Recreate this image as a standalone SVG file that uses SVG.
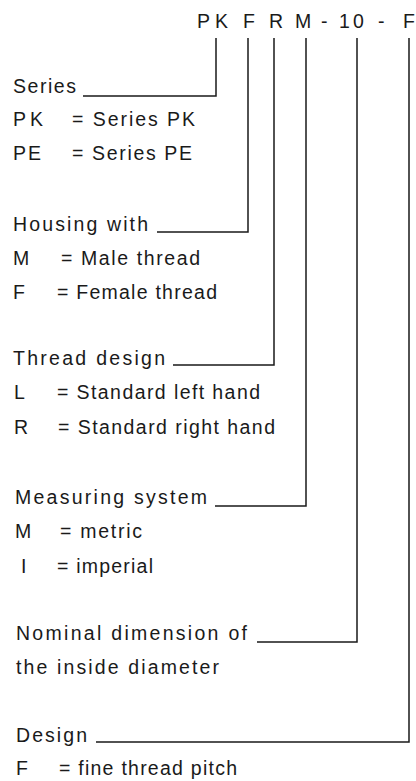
<svg xmlns="http://www.w3.org/2000/svg" width="416" height="781" viewBox="0 0 416 781">
  <style>
    text { font-family: "Liberation Sans", Arial, sans-serif; font-size: 19.5px; fill: #1a1a1a; }
    .leader { fill: none; stroke: #1a1a1a; stroke-width: 1.5; }
  </style>
  <rect width="416" height="781" fill="#ffffff"/>

  <!-- order code -->
  <g id="code">
    <text y="28"><tspan x="197">P</tspan><tspan x="215">K</tspan><tspan x="243">F</tspan><tspan x="269">R</tspan><tspan x="295">M</tspan><tspan x="321">-</tspan><tspan x="339">1</tspan><tspan x="353">0</tspan><tspan x="378">-</tspan><tspan x="403">F</tspan></text>
  </g>

  <!-- leader lines from each code position to its legend -->
  <g id="connectors">
    <polyline class="leader" points="216,38 216,96 83,96"/>
    <polyline class="leader" points="248,38 248,232 157,232"/>
    <polyline class="leader" points="274,38 274,365 173,365"/>
    <polyline class="leader" points="306,38 306,506 215,506"/>
    <polyline class="leader" points="357,38 357,642 257,642"/>
    <polyline class="leader" points="409,38 409,742 96,742"/>
  </g>

  <g id="series">
    <text x="13" y="93" textLength="63" lengthAdjust="spacing">Series</text>
    <text x="13" y="126" textLength="30" lengthAdjust="spacing">PK</text>
    <text x="72" y="126" textLength="123" lengthAdjust="spacing">= Series PK</text>
    <text x="13" y="160" textLength="28" lengthAdjust="spacing">PE</text>
    <text x="72" y="160" textLength="120" lengthAdjust="spacing">= Series PE</text>
  </g>

  <g id="housing">
    <text x="13" y="231" textLength="135" lengthAdjust="spacing">Housing with</text>
    <text x="13" y="265">M</text>
    <text x="61" y="265" textLength="139" lengthAdjust="spacing">= Male thread</text>
    <text x="13" y="299">F</text>
    <text x="57" y="299" textLength="160" lengthAdjust="spacing">= Female thread</text>
  </g>

  <g id="thread-design">
    <text x="13" y="365" textLength="152" lengthAdjust="spacing">Thread design</text>
    <text x="14" y="399">L</text>
    <text x="57" y="399" textLength="203" lengthAdjust="spacing">= Standard left hand</text>
    <text x="14" y="434">R</text>
    <text x="58" y="434" textLength="217" lengthAdjust="spacing">= Standard right hand</text>
  </g>

  <g id="measuring-system">
    <text x="15" y="504" textLength="192" lengthAdjust="spacing">Measuring system</text>
    <text x="15" y="538">M</text>
    <text x="60" y="538" textLength="82" lengthAdjust="spacing">= metric</text>
    <text x="21" y="573">I</text>
    <text x="57" y="573" textLength="96" lengthAdjust="spacing">= imperial</text>
  </g>

  <g id="nominal-dimension">
    <text x="16" y="640" textLength="231" lengthAdjust="spacing">Nominal dimension of</text>
    <text x="16" y="674" textLength="203" lengthAdjust="spacing">the inside diameter</text>
  </g>

  <g id="design">
    <text x="16" y="742" textLength="71" lengthAdjust="spacing">Design</text>
    <text x="16" y="775">F</text>
    <text x="59" y="775" textLength="178" lengthAdjust="spacing">= fine thread pitch</text>
  </g>
</svg>
